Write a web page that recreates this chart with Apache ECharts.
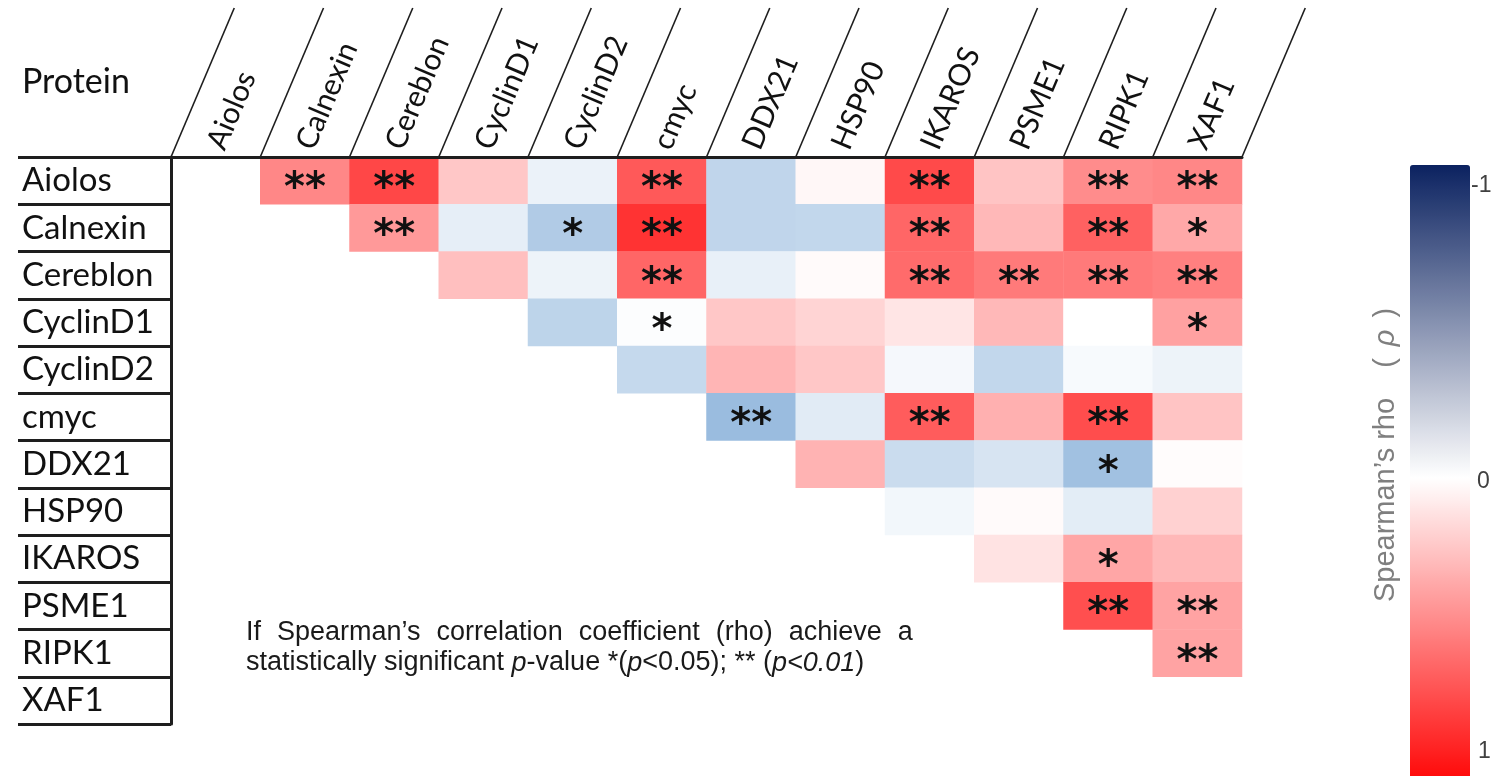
<!DOCTYPE html>
<html>
<head>
<meta charset="utf-8">
<title>Spearman correlation matrix</title>
<script src="https://cdn.jsdelivr.net/npm/echarts@6/dist/echarts.min.js"></script>
<style>
  html, body { margin: 0; padding: 0; background: #fff; }
  #chart { width: 1491px; height: 776px; }
</style>
</head>
<body>
<div id="chart"></div>
<script>
// proteins, same order on both axes
const proteins = ['Aiolos', 'Calnexin', 'Cereblon', 'CyclinD1', 'CyclinD2', 'cmyc',
  'DDX21', 'HSP90', 'IKAROS', 'PSME1', 'RIPK1', 'XAF1'];

// upper triangle only: row i holds the columns i+1 .. 11
const rho = [
  [0.47, 0.72, 0.22, -0.08, 0.65, -0.25, 0.03, 0.71, 0.23, 0.45, 0.47],
  [0.40, -0.10, -0.31, 0.80, -0.25, -0.24, 0.60, 0.28, 0.62, 0.34],
  [0.25, -0.07, 0.60, -0.09, 0.02, 0.58, 0.52, 0.52, 0.50],
  [-0.26, -0.01, 0.22, 0.17, 0.10, 0.28, 0.00, 0.37],
  [-0.23, 0.29, 0.22, -0.04, -0.24, -0.03, -0.07],
  [-0.40, -0.12, 0.64, 0.31, 0.70, 0.23],
  [0.30, -0.21, -0.16, -0.37, 0.01],
  [-0.05, 0.02, -0.11, 0.18],
  [0.11, 0.35, 0.28],
  [0.69, 0.36],
  [0.36]
];

// significance marks, same layout as rho
const signif = [
  ['**', '**', '', '', '**', '', '', '**', '', '**', '**'],
  ['**', '', '*', '**', '', '', '**', '', '**', '*'],
  ['', '', '**', '', '', '**', '**', '**', '**'],
  ['', '*', '', '', '', '', '', '*'],
  ['', '', '', '', '', '', ''],
  ['**', '', '**', '', '**', ''],
  ['', '', '', '*', ''],
  ['', '', '', ''],
  ['', '*', ''],
  ['**', '**'],
  ['**']
];

// colour bar tick labels, top to bottom
const barTicks = ['-1', '0', '1'];

const labelFont = 'Lato, "Open Sans", sans-serif';
const noteFont = '"Liberation Sans", Arial, sans-serif';
const lineColor = '#1e1e1e';
const headerRise = 149;                 // height of the slanted header band
const headerAngle = 67 * Math.PI / 180; // slant of header lines and labels

// heatmap cells: [column, row, rho, mark]
const cells = [];
rho.forEach(function (row, i) {
  row.forEach(function (v, k) {
    const j = i + 1 + k;
    cells.push([j, i, v, signif[i][k]]);
  });
});

// column boundaries for the slanted header lines: [column, row, side]
const bounds = proteins.map(function (_, i) { return [i, 0, -0.5]; });
bounds.push([proteins.length - 1, 0, 0.5]);

var chartDom = document.getElementById('chart');
var myChart = echarts.init(chartDom);

var option = {
  animation: false,
  backgroundColor: '#ffffff',
  grid: {
    left: 171,
    top: 157,
    width: 1071,
    height: 567
  },
  xAxis: {
    type: 'category',
    data: proteins,
    position: 'top',
    z: 10,
    axisLine: { lineStyle: { color: lineColor, width: 3 } },
    axisTick: { show: false },
    splitLine: { show: false },
    axisLabel: {
      interval: 0,
      rotate: -67,
      margin: 9,
      fontSize: 30,
      fontFamily: labelFont,
      color: '#111'
    }
  },
  yAxis: {
    type: 'category',
    data: proteins,
    inverse: true,
    z: 10,
    axisLine: { lineStyle: { color: lineColor, width: 3 } },
    axisTick: {
      show: true,
      interval: 0,
      length: 153,
      lineStyle: { color: lineColor, width: 3 }
    },
    splitLine: { show: false },
    axisLabel: {
      interval: 0,
      align: 'left',
      margin: 149,
      fontSize: 33,
      fontFamily: labelFont,
      color: '#111'
    }
  },
  visualMap: [
    {
      // colours of the cells
      show: false,
      type: 'continuous',
      min: -1,
      max: 1,
      dimension: 2,
      seriesIndex: 0,
      inRange: { color: ['#0258af', '#ffffff', '#ff0000'] }
    },
    {
      // the colour bar legend on the right
      show: true,
      type: 'continuous',
      min: -1,
      max: 1,
      seriesIndex: [],
      inverse: true,
      calculable: false,
      left: 1410,
      top: 165,
      padding: 0,
      itemWidth: 60,
      itemHeight: 626,
      text: null,
      inRange: { color: ['#0b2260', '#ffffff', '#ff0000'] }
    }
  ],
  series: [
    {
      type: 'heatmap',
      data: cells,
      itemStyle: { borderWidth: 0 },
      emphasis: { disabled: true },
      label: {
        show: true,
        formatter: function (p) { return p.data[3]; },
        fontSize: 40,
        fontWeight: 'bold',
        fontFamily: '"DejaVu Sans", sans-serif',
        color: '#111',
        offset: [0, 9]
      }
    },
    {
      type: 'custom',
      data: bounds,
      clip: false,
      silent: true,
      z: 5,
      renderItem: function (params, api) {
        const c = api.coord([api.value(0), api.value(1)]);
        const s = api.size([1, 1]);
        const x0 = c[0] + api.value(2) * s[0];
        const y0 = c[1] - s[1] / 2;
        return {
          type: 'line',
          shape: {
            x1: x0,
            y1: y0,
            x2: x0 + headerRise / Math.tan(headerAngle),
            y2: y0 - headerRise
          },
          style: { stroke: lineColor, lineWidth: 1.6 }
        };
      }
    }
  ],
  graphic: [
    {
      type: 'text',
      left: 22,
      top: 65,
      style: {
        text: 'Protein',
        font: '34px ' + labelFont,
        fill: '#111'
      }
    },
    {
      // note under the matrix
      type: 'text',
      x: 246,
      y: 618,
      style: {
        text: '{n|If}{g| }{n|Spearman\u2019s}{g| }{n|correlation}{g| }{n|coefficient}{g| }{n|(rho)}{g| }{n|achieve}{g| }{n|a}\n' +
          '{n|statistically significant }{i|p}{n|-value *(}{i|p}{n|<0.05); ** (}{i|p<0.01}{n|)}',
        fill: '#1a1a1a',
        font: '27px ' + noteFont,
        rich: {
          n: { fontSize: 27, fontFamily: noteFont, lineHeight: 30, fill: '#1a1a1a' },
          i: { fontSize: 27, fontFamily: noteFont, fontStyle: 'italic', lineHeight: 30, fill: '#1a1a1a' },
          g: { fontSize: 27, width: 16, lineHeight: 30 }
        }
      }
    },
    {
      // colour bar title, reading bottom to top
      type: 'text',
      x: 1386,
      y: 455,
      rotation: Math.PI / 2,
      style: {
        text: '{t|Spearman\u2019s rho }{p|(}{r|\u03c1}{q|)}',
        align: 'center',
        verticalAlign: 'middle',
        rich: {
          t: { fontSize: 29, fontFamily: noteFont, fill: '#7f7f7f' },
          p: { fontSize: 29, fontFamily: noteFont, fill: '#7f7f7f', padding: [0, 0, 0, 22] },
          r: { fontSize: 29, fontFamily: noteFont, fontStyle: 'italic', fill: '#7f7f7f', padding: [0, 12, 0, 12] },
          q: { fontSize: 29, fontFamily: noteFont, fill: '#7f7f7f' }
        }
      }
    },
    {
      type: 'text',
      x: 1471,
      y: 186,
      style: { text: barTicks[0], font: '23px ' + noteFont, fill: '#404040', verticalAlign: 'middle' }
    },
    {
      type: 'text',
      x: 1477,
      y: 482,
      style: { text: barTicks[1], font: '23px ' + noteFont, fill: '#404040', verticalAlign: 'middle' }
    },
    {
      type: 'text',
      x: 1478,
      y: 752,
      style: { text: barTicks[2], font: '23px ' + noteFont, fill: '#404040', verticalAlign: 'middle' }
    }
  ]
};

myChart.setOption(option);
</script>
</body>
</html>
